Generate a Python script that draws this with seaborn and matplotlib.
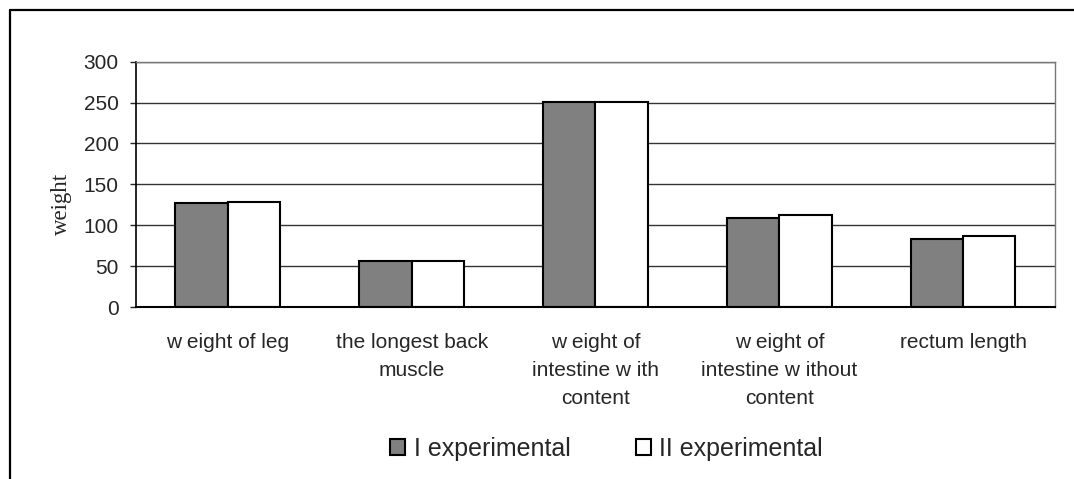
import matplotlib
matplotlib.use('Agg')
import matplotlib.pyplot as plt
import matplotlib.lines as mlines
import pandas as pd
import seaborn as sns

categories = ['w eight of leg', 'the longest back\nmuscle',
              'w eight of\nintestine w ith\ncontent',
              'w eight of\nintestine w ithout\ncontent', 'rectum length']
group_1 = [127, 56, 251, 109, 83]   # I experimental
group_2 = [129, 56, 251, 112, 87]   # II experimental
series = ['I experimental', 'II experimental']

df = pd.DataFrame({'category': categories * 2,
                   'value': group_1 + group_2,
                   'group': [series[0]] * 5 + [series[1]] * 5})

sns.set_style('white')
plt.rcParams['font.family'] = ['Liberation Sans', 'DejaVu Sans']

fig = plt.figure(figsize=(10.74, 4.79), dpi=100)
ax = fig.add_axes([0.1266, 0.359, 0.9823 - 0.1266, 0.8712 - 0.359])

sns.barplot(data=df, x='category', y='value', hue='group', ax=ax,
            palette=['#808080', '#ffffff'], width=0.57,
            edgecolor='black', linewidth=1.5, saturation=1)

ax.set_ylim(0, 300)
ax.set_yticks(range(0, 301, 50))
ax.yaxis.grid(True, color='#333333', linewidth=1)
ax.set_axisbelow(True)
ax.set_xlabel('')
ax.set_ylabel('weight', family=['Liberation Serif', 'DejaVu Serif'],
              fontsize=16.5)
ax.yaxis.set_label_coords(-0.0696, 0.42)

for side in ['top', 'right']:
    ax.spines[side].set_visible(True)
    ax.spines[side].set_color('#777777')
    ax.spines[side].set_linewidth(1)
ax.spines['left'].set_color('black')
ax.spines['left'].set_linewidth(1.2)
ax.spines['bottom'].set_color('black')
ax.spines['bottom'].set_linewidth(1.5)

ax.tick_params(axis='y', left=True, length=4.5, width=1, labelsize=15, pad=8)
ax.tick_params(axis='x', bottom=False, labelsize=15, pad=15)
for lbl in ax.get_xticklabels():
    lbl.set_linespacing(1.62)
    lbl.set_verticalalignment('top')

leg = ax.legend(loc='center', bbox_to_anchor=(0.512, -0.577), ncol=2,
                frameon=False, fontsize=18, handlelength=0.6,
                handleheight=0.6, handletextpad=0.35, columnspacing=2.6)

# outer frame of the original figure
fig.add_artist(mlines.Line2D([10 / 1074, 1], [1 - 10 / 479, 1 - 10 / 479],
                             color='black', linewidth=1.6,
                             transform=fig.transFigure))
fig.add_artist(mlines.Line2D([10 / 1074, 10 / 1074], [0, 1 - 10 / 479],
                             color='black', linewidth=1.6,
                             transform=fig.transFigure))

fig.savefig('out.png', dpi=100)
